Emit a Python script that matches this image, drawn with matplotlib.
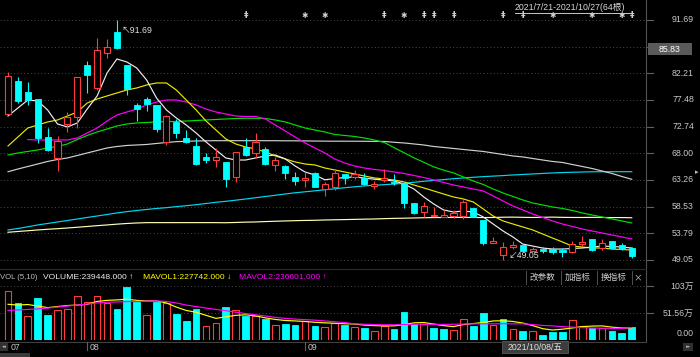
import matplotlib
matplotlib.use("Agg")
import matplotlib.pyplot as plt
import matplotlib.transforms as mtransforms
from matplotlib.patches import Rectangle
import numpy as np

plt.rcParams['font.family'] = ['Liberation Sans', 'Noto Sans CJK SC', 'DejaVu Sans']

# ---------------- data (2021/7/21 - 2021/10/27, 64 trading days) ----------------
opens = [74.99, 80.85, 78.90, 77.65, 70.95, 67.22, 73.21, 74.51, 83.69, 79.55,
         85.88, 89.50, 83.69, 76.53, 77.65, 76.53, 70.07, 73.62, 70.67, 69.30,
         67.35, 66.76, 66.41, 63.85, 69.18, 68.00, 68.77, 65.93, 65.75, 63.74,
         63.26, 64.45, 61.72, 61.96, 64.27, 63.85, 63.67, 62.25, 63.26, 62.96,
         62.78, 59.17, 57.63, 56.86, 56.63, 56.86, 56.92, 58.23, 56.15, 52.12,
         49.93, 51.41, 51.66, 50.65, 50.97, 50.91, 50.78, 50.41, 51.84, 52.72,
         51.12, 52.42, 51.66, 51.23]
highs = [82.45, 81.62, 80.67, 77.65, 72.45, 71.08, 75.40, 81.60, 84.40, 88.44,
         88.26, 91.69, 83.75, 76.99, 78.01, 76.60, 74.80, 74.05, 72.14, 70.67,
         68.11, 68.89, 66.45, 68.20, 70.67, 71.56, 69.10, 67.40, 65.90, 64.63,
         64.73, 64.70, 62.96, 65.16, 64.30, 65.04, 64.45, 63.14, 65.16, 64.27,
         62.90, 59.20, 59.41, 58.52, 57.93, 57.93, 59.71, 58.30, 56.20, 53.19,
         52.30, 52.42, 51.80, 51.30, 51.41, 51.40, 51.10, 52.47, 53.31, 52.80,
         52.72, 52.50, 52.10, 51.30]
lows = [74.90, 76.94, 76.59, 69.84, 68.42, 64.86, 71.84, 72.45, 78.67, 79.25,
        84.99, 86.48, 78.31, 73.74, 75.52, 71.84, 69.48, 70.78, 69.78, 65.95,
        66.33, 65.52, 62.07, 62.96, 67.60, 67.12, 65.90, 64.86, 63.44, 62.37,
        61.96, 62.00, 60.42, 61.48, 62.50, 63.44, 62.40, 61.72, 62.96, 62.37,
        58.23, 57.20, 56.63, 56.80, 56.60, 56.50, 56.28, 56.60, 51.71, 52.00,
        49.05, 50.97, 50.60, 50.60, 50.34, 50.11, 49.63, 50.30, 51.50, 50.70,
        50.82, 51.00, 50.80, 49.35]
closes = [81.74, 77.35, 77.47, 70.67, 68.59, 70.19, 74.40, 81.51, 81.92, 86.31,
          86.95, 86.75, 79.43, 75.93, 76.71, 72.27, 74.63, 71.56, 70.07, 66.05,
          66.76, 67.35, 63.38, 68.18, 67.70, 70.07, 66.05, 66.81, 64.56, 63.08,
          63.68, 62.07, 62.50, 64.45, 63.67, 64.27, 62.50, 62.60, 63.56, 62.67,
          59.23, 57.34, 58.64, 57.04, 56.98, 57.34, 59.41, 56.69, 52.01, 52.42,
          51.41, 51.71, 50.65, 50.97, 50.65, 50.49, 50.40, 51.84, 52.30, 50.82,
          52.12, 51.12, 50.97, 49.76]

ma5 = [74.63, 76.05, 77.47, 77.30, 75.70, 73.21, 72.68, 73.39, 75.87, 78.19,
       82.27, 84.76, 84.23, 83.16, 81.03, 77.83, 75.70, 74.28, 73.03, 71.61,
       70.01, 68.59, 67.17, 66.81, 66.81, 67.17, 67.53, 67.70, 67.00, 65.75,
       64.68, 64.15, 63.30, 63.50, 63.70, 63.80, 63.60, 63.40, 63.26, 63.08,
       62.55, 61.66, 60.24, 58.99, 57.93, 57.57, 57.75, 57.57, 56.69, 55.44,
       54.20, 53.13, 51.87, 51.52, 51.17, 50.99, 50.99, 51.08, 51.17, 51.35,
       51.52, 51.44, 51.35, 51.17]
ma10 = [69.30, 70.90, 72.50, 73.03, 73.57, 73.92, 74.63, 75.34, 76.94, 77.65,
        78.19, 78.72, 79.25, 79.61, 80.14, 80.50, 80.50, 79.25, 77.47, 75.70,
        73.74, 72.14, 70.55, 69.66, 69.12, 68.77, 68.24, 67.53, 67.00, 66.46,
        66.10, 65.93, 65.39, 65.04, 64.68, 64.33, 63.97, 63.62, 63.44, 63.26,
        62.91, 62.37, 61.84, 61.31, 60.77, 60.24, 59.88, 59.35, 58.11, 56.86,
        55.98, 55.44, 54.91, 54.38, 53.66, 52.95, 52.24, 51.52, 51.35, 51.17,
        51.17, 50.99, 50.91, 50.82]
ma20 = [np.nan, np.nan, 70.44, 70.37, 70.37, 70.37, 70.37, 70.72, 71.61, 72.50,
        73.74, 74.81, 75.34, 75.87, 76.59, 77.12, 77.47, 77.47, 77.12, 76.59,
        75.87, 75.34, 74.99, 74.63, 74.54, 74.54, 74.10, 73.03, 71.97, 70.90,
        69.84, 68.95, 68.06, 66.99, 66.28, 65.75, 65.39, 65.13, 64.95, 64.68,
        64.42, 64.06, 63.70, 63.26, 62.82, 62.37, 62.02, 61.66, 61.31, 60.42,
        59.53, 58.64, 57.93, 57.22, 56.60, 55.98, 55.44, 55.00, 54.55, 54.20,
        53.84, 53.49, 53.13, 52.78]
ma30 = [67.70, 68.06, 68.33, 68.59, 68.95, 69.21, 69.66, 70.46, 71.17, 71.79,
        72.32, 72.86, 73.21, 73.39, 73.48, 73.57, 73.62, 73.66, 73.74, 73.83,
        73.92, 74.01, 74.10, 74.19, 74.22, 74.22, 74.19, 73.92, 73.57, 73.03,
        72.50, 72.14, 71.79, 71.35, 71.17, 70.99, 70.72, 70.37, 69.92, 69.00,
        68.10, 67.20, 66.40, 65.60, 65.00, 64.51, 63.79, 63.08, 62.46, 61.66,
        60.95, 60.33, 59.71, 59.17, 58.82, 58.46, 58.20, 57.84, 57.40, 57.04,
        56.69, 56.33, 55.98, 55.62]
ma60 = [64.73, 65.21, 65.66, 66.10, 66.55, 66.90, 67.17, 67.61, 68.06, 68.50,
        68.95, 69.21, 69.39, 69.48, 69.57, 69.75, 69.92, 70.07, 70.14, 70.19,
        70.22, 70.24, 70.24, 70.24, 70.24, 70.24, 70.24, 70.24, 70.22, 70.22,
        70.20, 70.18, 70.16, 70.15, 70.15, 70.15, 70.14, 70.12, 70.10, 69.96,
        69.84, 69.66, 69.48, 69.21, 69.04, 68.86, 68.68, 68.50, 68.33, 68.06,
        67.79, 67.53, 67.35, 67.08, 66.81, 66.55, 66.37, 66.01, 65.66, 65.30,
        64.86, 64.42, 63.88, 63.38]
ma120 = [54.38, 54.64, 54.95, 55.27, 55.53, 55.80, 56.06, 56.33, 56.60, 56.86,
         57.13, 57.40, 57.63, 57.84, 58.02, 58.20, 58.34, 58.52, 58.69, 58.87,
         59.08, 59.30, 59.47, 59.67, 59.88, 60.10, 60.33, 60.54, 60.77, 60.99,
         61.16, 61.34, 61.52, 61.70, 61.88, 62.05, 62.21, 62.32, 62.43, 62.53,
         62.67, 62.85, 63.03, 63.19, 63.33, 63.49, 63.62, 63.74, 63.85, 63.95,
         64.04, 64.15, 64.24, 64.33, 64.42, 64.51, 64.58, 64.63, 64.68, 64.72,
         64.73, 64.73, 64.73, 64.73]
ma250 = [53.97, 54.11, 54.24, 54.38, 54.50, 54.61, 54.73, 54.86, 55.00, 55.14,
         55.27, 55.41, 55.53, 55.62, 55.68, 55.68, 55.68, 55.68, 55.68, 55.68,
         55.68, 55.68, 55.66, 55.71, 55.77, 55.80, 55.87, 55.93, 55.98, 56.03,
         56.07, 56.10, 56.15, 56.19, 56.22, 56.26, 56.30, 56.33, 56.39, 56.44,
         56.47, 56.51, 56.55, 56.58, 56.60, 56.60, 56.62, 56.60, 56.58, 56.60,
         56.64, 56.66, 56.62, 56.60, 56.63, 56.66, 56.62, 56.60, 56.60, 56.62,
         56.60, 56.58, 56.58, 56.55]

# volume in 万 shares
vol = [94.1, 70.0, 46.5, 80.4, 48.4, 56.3, 59.4, 84.3, 72.5, 83.7,
       70.0, 58.2, 101.9, 72.5, 48.4, 72.5, 71.1, 50.4, 36.7, 58.2,
       27.4, 31.9, 62.7, 56.3, 45.1, 45.1, 39.8, 28.8, 30.8, 29.4,
       35.3, 27.4, 25.5, 33.3, 28.0, 25.5, 23.5, 17.6, 26.9, 20.2,
       52.9, 30.0, 30.0, 22.1, 20.2, 19.0, 40.6, 26.9, 51.5, 28.8,
       40.6, 21.0, 17.6, 17.6, 9.2, 15.7, 15.7, 37.2, 26.9, 22.1,
       22.1, 17.6, 13.7, 23.9]
mavol1 = [68.0, 66.6, 67.6, 64.7, 61.7, 63.7, 65.7, 66.6, 68.0, 73.5,
          75.5, 76.4, 77.8, 75.5, 74.5, 74.5, 70.6, 62.7, 56.3, 52.9,
          47.0, 41.2, 44.1, 47.0, 48.0, 46.1, 42.1, 39.2, 37.2, 36.3,
          35.3, 33.7, 32.7, 31.9, 31.0, 30.4, 28.4, 27.4, 26.9, 26.9,
          29.4, 32.7, 33.3, 30.4, 27.4, 25.5, 29.4, 31.4, 33.3, 36.3,
          36.7, 35.3, 32.3, 27.4, 21.6, 19.0, 20.6, 22.9, 25.5, 26.5,
          26.9, 24.5, 22.9, 22.8]
mavol2 = [56.3, 57.2, 58.2, 59.2, 60.8, 62.7, 64.7, 66.6, 68.6, 70.6,
          71.9, 72.5, 73.1, 73.5, 74.1, 74.5, 73.5, 70.6, 66.6, 63.7,
          60.8, 58.2, 55.9, 52.9, 50.4, 48.0, 45.7, 43.1, 41.2, 39.8,
          38.8, 37.8, 36.3, 34.7, 33.3, 30.8, 30.0, 29.4, 29.0, 29.0,
          29.4, 30.0, 30.0, 29.8, 29.8, 30.0, 30.4, 30.8, 30.8, 30.8,
          31.0, 30.8, 30.8, 29.4, 27.8, 26.9, 25.5, 24.5, 23.5, 22.9,
          22.5, 22.1, 22.1, 23.7]

price_ticks = [91.69, 86.95, 82.21, 77.48, 72.74, 68.00, 63.26, 58.53, 53.79, 49.05]
price_tick_labels = ["91.69", "", "82.21", "77.48", "72.74", "68.00", "63.26", "58.53", "53.79", "49.05"]
cursor_price = "85.83"
vol_ticks = [0.0, 51.56, 103.0]
vol_tick_labels = ["0.00", "51.56万", "103万"]
month_labels = ["07", "08", "09"]
month_start = [0, 8, 30]
star_events = [30, 32, 40, 55, 59, 62]
info_events = [24, 38, 42, 43, 45, 50, 52, 63]
range_text = "2021/7/21-2021/10/27(64根)"
cursor_date = "2021/10/08/五"
vol_header = [("VOL (5,10)", "#BBBBBB", 0.5, 5.6),
              ("VOLUME:239448.000 ↑", "#EEEEEE", 43, 6.1),
              ("MAVOL1:227742.000 ↓", "#FFFF00", 143, 6.1),
              ("MAVOL2:236601.000 ↑", "#FF00FF", 239, 6.1)]
buttons = ["改参数", "加指标", "换指标", "×"]

# ---------------- layout ----------------
W, H = 700, 357
BG = "#000000"
RED = "#FF3B3B"
CYAN = "#00FFFF"
GRID = "#4a4a4a"
TXT = "#C8C8C8"

fig = plt.figure(figsize=(7, 3.57), dpi=100, facecolor=BG)


def px_rect(x0, y0, x1, y1):
    return [x0 / W, 1 - y1 / H, (x1 - x0) / W, (y1 - y0) / H]


ax = fig.add_axes(px_rect(0, 0, 645, 268))
axv = fig.add_axes(px_rect(0, 268, 645, 340))
for a in (ax, axv):
    a.set_facecolor(BG)
    for s in a.spines.values():
        s.set_visible(False)
    a.set_xticks([])
    a.set_yticks([])

n = len(closes)
idx = np.arange(n)
xl = (-0.81, 64.34)
ax.set_xlim(*xl)
axv.set_xlim(*xl)
ax.set_ylim(47.62, 95.24)
axv.set_ylim(0, 137.2)

# grid
for p in price_ticks:
    ax.axhline(p, color=GRID, lw=0.7, ls=(0, (1, 2.5)), zorder=1)
for v in vol_ticks[1:]:
    axv.axhline(v, color=GRID, lw=0.7, ls=(0, (1, 2.5)), zorder=1)

# moving averages
lw = 0.85
ax.plot(idx, ma250, color="#FFFFB4", lw=lw, zorder=2)
ax.plot(idx, ma120, color="#00D8F0", lw=lw, zorder=2)
ax.plot(idx, ma60, color="#D0D0D0", lw=lw, zorder=2)
ax.plot(idx, ma30, color="#00E000", lw=lw, zorder=2)
ax.plot(idx, ma20, color="#FF00FF", lw=lw, zorder=2)
ax.plot(idx, ma10, color="#E8E800", lw=lw, zorder=2)
ax.plot(idx, ma5, color="#EEEEEE", lw=lw, zorder=2)

# candles
bw = 0.62
for i in range(n):
    o, h, l, c = opens[i], highs[i], lows[i], closes[i]
    if c >= o:
        ax.vlines(i, c, h, color=RED, lw=0.8, zorder=5)
        ax.vlines(i, l, o, color=RED, lw=0.8, zorder=5)
        ax.add_patch(Rectangle((i - bw / 2, o), bw, max(c - o, 0.04),
                               fc=BG, ec=RED, lw=0.8, zorder=6))
    else:
        ax.vlines(i, l, h, color=CYAN, lw=0.8, zorder=5)
        ax.add_patch(Rectangle((i - bw / 2, c), bw, o - c,
                               fc=CYAN, ec=CYAN, lw=0.6, zorder=6))

# extreme annotations
imax = int(np.argmax(highs))
imin = int(np.argmin(lows))
ax.annotate("↖" + f"{highs[imax]:.2f}", xy=(imax, highs[imax]), xytext=(5, -10.5),
            textcoords="offset pixels", color="#E0E0E0", fontsize=6.3,
            ha="left", va="center", zorder=8)
ax.annotate("↙" + f"{lows[imin]:.2f}", xy=(imin, lows[imin]), xytext=(5, 4.5),
            textcoords="offset pixels", color="#E0E0E0", fontsize=6.3,
            ha="left", va="center", zorder=8)

# event markers at top
trx = mtransforms.blended_transform_factory(ax.transData, ax.transAxes)
for i in star_events:
    ax.text(i, 1 - 16 / 268, "✱", transform=trx, color="#D0D0D0", fontsize=5.5,
            ha="center", va="center", family=["DejaVu Sans"])
for i in info_events:
    ax.text(i, 1 - 16 / 268, "‡", transform=trx, color="#D0D0D0", fontsize=6.5,
            ha="center", va="center", family=["DejaVu Sans"], fontweight="bold")

# volume bars
vbw = 0.68
for i in range(n):
    up = (closes[i] >= closes[i - 1]) if i > 0 else (closes[i] >= opens[i])
    if up:
        axv.add_patch(Rectangle((i - vbw / 2, 0), vbw, vol[i], fc=BG, ec=RED, lw=0.8, zorder=3))
    else:
        axv.add_patch(Rectangle((i - vbw / 2, 0), vbw, vol[i], fc=CYAN, ec=CYAN, lw=0.6, zorder=3))
axv.plot(idx, mavol1, color="#FFFF00", lw=0.85, zorder=5)
axv.plot(idx, mavol2, color="#FF00FF", lw=0.85, zorder=5)

# ---------------- overlay (pixel coordinates) ----------------
ov = fig.add_axes([0, 0, 1, 1])
ov.set_xlim(0, W)
ov.set_ylim(H, 0)
ov.axis("off")
ov.patch.set_visible(False)

# frame lines
ov.plot([646, 646], [0, 342], color="#505050", lw=0.8)
ov.plot([0, 646], [268.5, 268.5], color="#2a2a2a", lw=0.8)
ov.plot([0, 646], [341.5, 341.5], color="#404040", lw=0.8)

# price axis labels
trp = mtransforms.blended_transform_factory(ax.transAxes, ax.transData)
for p, lab in zip(price_ticks, price_tick_labels):
    ax.plot([1.002, 1.012], [p, p], transform=trp, color="#606060", lw=0.8, clip_on=False)
    if lab:
        ax.text(694 / 645, p, lab, transform=trp, color=TXT, fontsize=6.3,
                ha="right", va="center", clip_on=False)
ov.add_patch(Rectangle((648, 43), 44, 12, fc="#5a5a5a", ec="none"))
ov.text(670, 49.2, cursor_price, color="#FFFFFF", fontsize=6.3, ha="center", va="center")
ov.text(697, 172.5, "▸", color="#C0C0C0", fontsize=5, ha="center", va="center",
        family=["DejaVu Sans"])

# volume axis labels
trv = mtransforms.blended_transform_factory(axv.transAxes, axv.transData)
for v, lab in zip(vol_ticks, vol_tick_labels):
    if v > 0:
        axv.plot([1.002, 1.012], [v, v], transform=trv, color="#606060", lw=0.8, clip_on=False)
        axv.text(694 / 645, v, lab, transform=trv, color=TXT, fontsize=6.3,
                 ha="right", va="center", clip_on=False)
    else:
        ov.text(694, 333.5, lab, color=TXT, fontsize=6.3, ha="right", va="center")

# volume header
for txt, col, x0, fs in vol_header:
    ov.text(x0, 277.5, txt, color=col, fontsize=fs, ha="left", va="center")

# buttons
btn_cx = [542.5, 577.5, 613.5, 637.5]
for b, cx in zip(buttons, btn_cx):
    ov.text(cx, 277.5, b, color="#D0D0D0", fontsize=6.2, ha="center", va="center",
            family=["Noto Sans CJK SC", "DejaVu Sans"])
for sx in [526, 561, 597, 632]:
    ov.plot([sx, sx], [271, 284], color="#505050", lw=0.7)

# date range at top right
ov.text(515, 7, range_text, color="#D8D8D8", fontsize=6.3, ha="left", va="center")
ov.plot([515, 632], [12.8, 12.8], color="#C8C8C8", lw=0.7)

# x axis (months)
for lab, i in zip(month_labels, month_start):
    xp = 8 + 9.9 * i
    if i > 0:
        ov.plot([xp, xp], [342, 350], color="#606060", lw=0.8)
    ov.text(max(xp, 8) + 2.5, 347.5, lab, color=TXT, fontsize=6.3, ha="left", va="center")

# small navigation boxes
ov.add_patch(Rectangle((0, 343), 8, 8, fc="#303030", ec="none"))
ov.text(4, 347, "◂◂", color="#AAAAAA", fontsize=3.5, ha="center", va="center",
        family=["DejaVu Sans"])
ov.add_patch(Rectangle((683, 343), 10, 8, fc="#303030", ec="none"))
ov.text(688, 347, "▸▸", color="#AAAAAA", fontsize=3.5, ha="center", va="center",
        family=["DejaVu Sans"])
ov.add_patch(Rectangle((0, 353), 30, 4, fc="#3a3a3a", ec="none"))

# cursor date box
ov.add_patch(Rectangle((502, 341), 66, 12, fc="#3c3c3c", ec="#5a5a5a", lw=0.6))
ov.text(535, 347.2, cursor_date, color="#E0E0E0", fontsize=6.3, ha="center", va="center")

fig.savefig("out.png", dpi=100, facecolor=BG)
